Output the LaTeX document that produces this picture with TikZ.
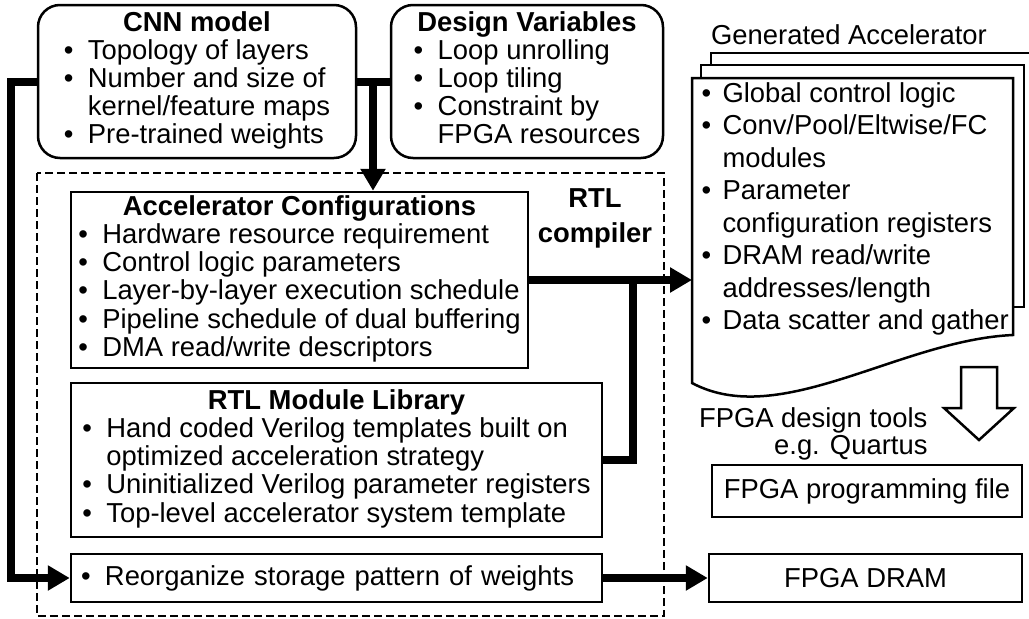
\documentclass[tikz,border=0pt]{standalone}
\usepackage{fontspec}
\setmainfont{Liberation Sans}
\usetikzlibrary{arrows.meta}
\newcommand\itm{\makebox[24pt][l]{\textbullet}}
\newcommand\ind{\hspace*{24pt}}
\newcommand\ditm{\makebox[21pt][l]{\textbullet}}
\newcommand\dind{\hspace*{21pt}}
\newcommand\hd[1]{\multicolumn{1}{@{}c@{}}{\bfseries #1}}
\tikzset{
  box/.style={draw, line width=2.5pt, inner sep=0pt, fill=white},
  rbox/.style={box, rounded corners=22pt},
  fat/.style={line width=8pt},
  fatarrow/.style={fat, -{Triangle[length=22pt,width=24pt]}},
  pg/.style={draw, line width=2.5pt, fill=white},
}
\begin{document}
\begin{tikzpicture}[x=1pt,y=-1pt]
      \useasboundingbox (0,0) rectangle (1029,619);
      \node[rbox, minimum width=318pt, minimum height=153pt,
        font=\fontsize{27.4}{27.5}\selectfont] (cnn) at (197,81.5)
        {\begin{tabular}{@{}l@{}}\hd{CNN model}\\ \itm Topology of layers\\
         \itm Number and size of\\ \ind kernel/feature maps\\ \itm Pre-trained weights\end{tabular}};
      \node[rbox, minimum width=272pt, minimum height=153pt,
        font=\fontsize{27.4}{27.5}\selectfont] (dv) at (527,81.5)
        {\begin{tabular}{@{}l@{}}\hd{Design Variables}\\ \itm Loop unrolling\\
         \itm Loop tiling\\ \itm Constraint by\\ \ind FPGA resources\end{tabular}};
      \draw[line width=2pt, dash pattern=on 8pt off 4pt] (37,173) rectangle (664,616);
      \node[font=\fontsize{27.4}{35}\selectfont\bfseries, align=center] (rtlc) at (595,218)
        {RTL\\compiler};
      \node[box, minimum width=457pt, minimum height=176pt,
        font=\fontsize{27.4}{28}\selectfont] (accel) at (299.5,280)
        {\begin{tabular}{@{}l@{}}\hd{Accelerator Configurations}\\
         \itm Hardware resource requirement\\ \itm Control logic parameters\\
         \itm Layer-by-layer execution schedule\\ \itm Pipeline schedule of dual buffering\\
         \itm DMA read/write descriptors\end{tabular}};
      \node[box, minimum width=531pt, minimum height=154pt,
        font=\fontsize{27.4}{28}\selectfont] (rtllib) at (336.5,460)
        {\begin{tabular}{@{}l@{}}\hd{RTL Module Library}\\
         \itm Hand coded Verilog templates built on\\ \ind optimized acceleration strategy\\
         \itm Uninitialized Verilog parameter registers\\
         \itm Top-level accelerator system template\end{tabular}};
      \node[box, minimum height=48pt, text width=511pt, inner xsep=10pt, align=left,
        font=\fontsize{27.4}{28}\selectfont] (reorg) at (336.5,578)
        {\itm Reorganize storage pattern of weights};
      \node[box, minimum width=313pt, minimum height=48pt,
        font=\fontsize{27.4}{28}\selectfont] (dram) at (865.5,578) {FPGA DRAM};
      \node[box, minimum width=310pt, minimum height=52pt,
        font=\fontsize{27.4}{28}\selectfont] (prog) at (867,491) {FPGA programming file};
      % generated accelerator pages
      \node[font=\fontsize{27.4}{28}\selectfont] (genlbl) at (849,35) {Generated Accelerator};
      \draw[pg] (711,290) -- (711,53) -- (1034,53) -- (1034,290);
      \draw[pg] (701,307) -- (701,65) -- (1024,65) -- (1024,307) -- cycle;
      \draw[pg] (692,383) -- (692,78) -- (1013,78) -- (1013,335)
        .. controls (900,340) and (780,430) .. (692,383) -- cycle;
      \node[anchor=west, font=\fontsize{27.4}{32.5}\selectfont] (gentxt) at (698,209.5)
        {\begin{tabular}{@{}l@{}}\ditm Global control logic\\ \ditm Conv/Pool/Eltwise/FC\\
         \dind modules\\ \ditm Parameter\\ \dind configuration registers\\
         \ditm DRAM read/write\\ \dind addresses/length\\
         \ditm Data scatter and gather\end{tabular}};
      \coordinate (gen) at (692,280);
      % tool flow
      \draw[line width=2.5pt, line join=miter] (961,367) -- (997,367) -- (997,408) -- (1014,408)
        -- (979,440) -- (944,408) -- (961,408) -- cycle;
      \node[anchor=east, align=right, font=\fontsize{27.4}{27}\selectfont] (tools) at (931,434)
        {FPGA design tools\\e.g. Quartus};
      % connectors
      \coordinate (join) at (373,81.5);
      \coordinate (tap) at (633,280);
      \draw[fat] (cnn.east) -- (dv.west);
      \draw[fatarrow] (join) -- (join |- accel.north);
      \draw[fatarrow] (cnn.west) -- ++(-26,0) |- (reorg.west);
      \draw[fatarrow] (accel.east) -- (gen);
      \draw[fat] (rtllib.east) -| (tap);
      \draw[fatarrow] (reorg.east) -- (dram.west);
\end{tikzpicture}
\end{document}
